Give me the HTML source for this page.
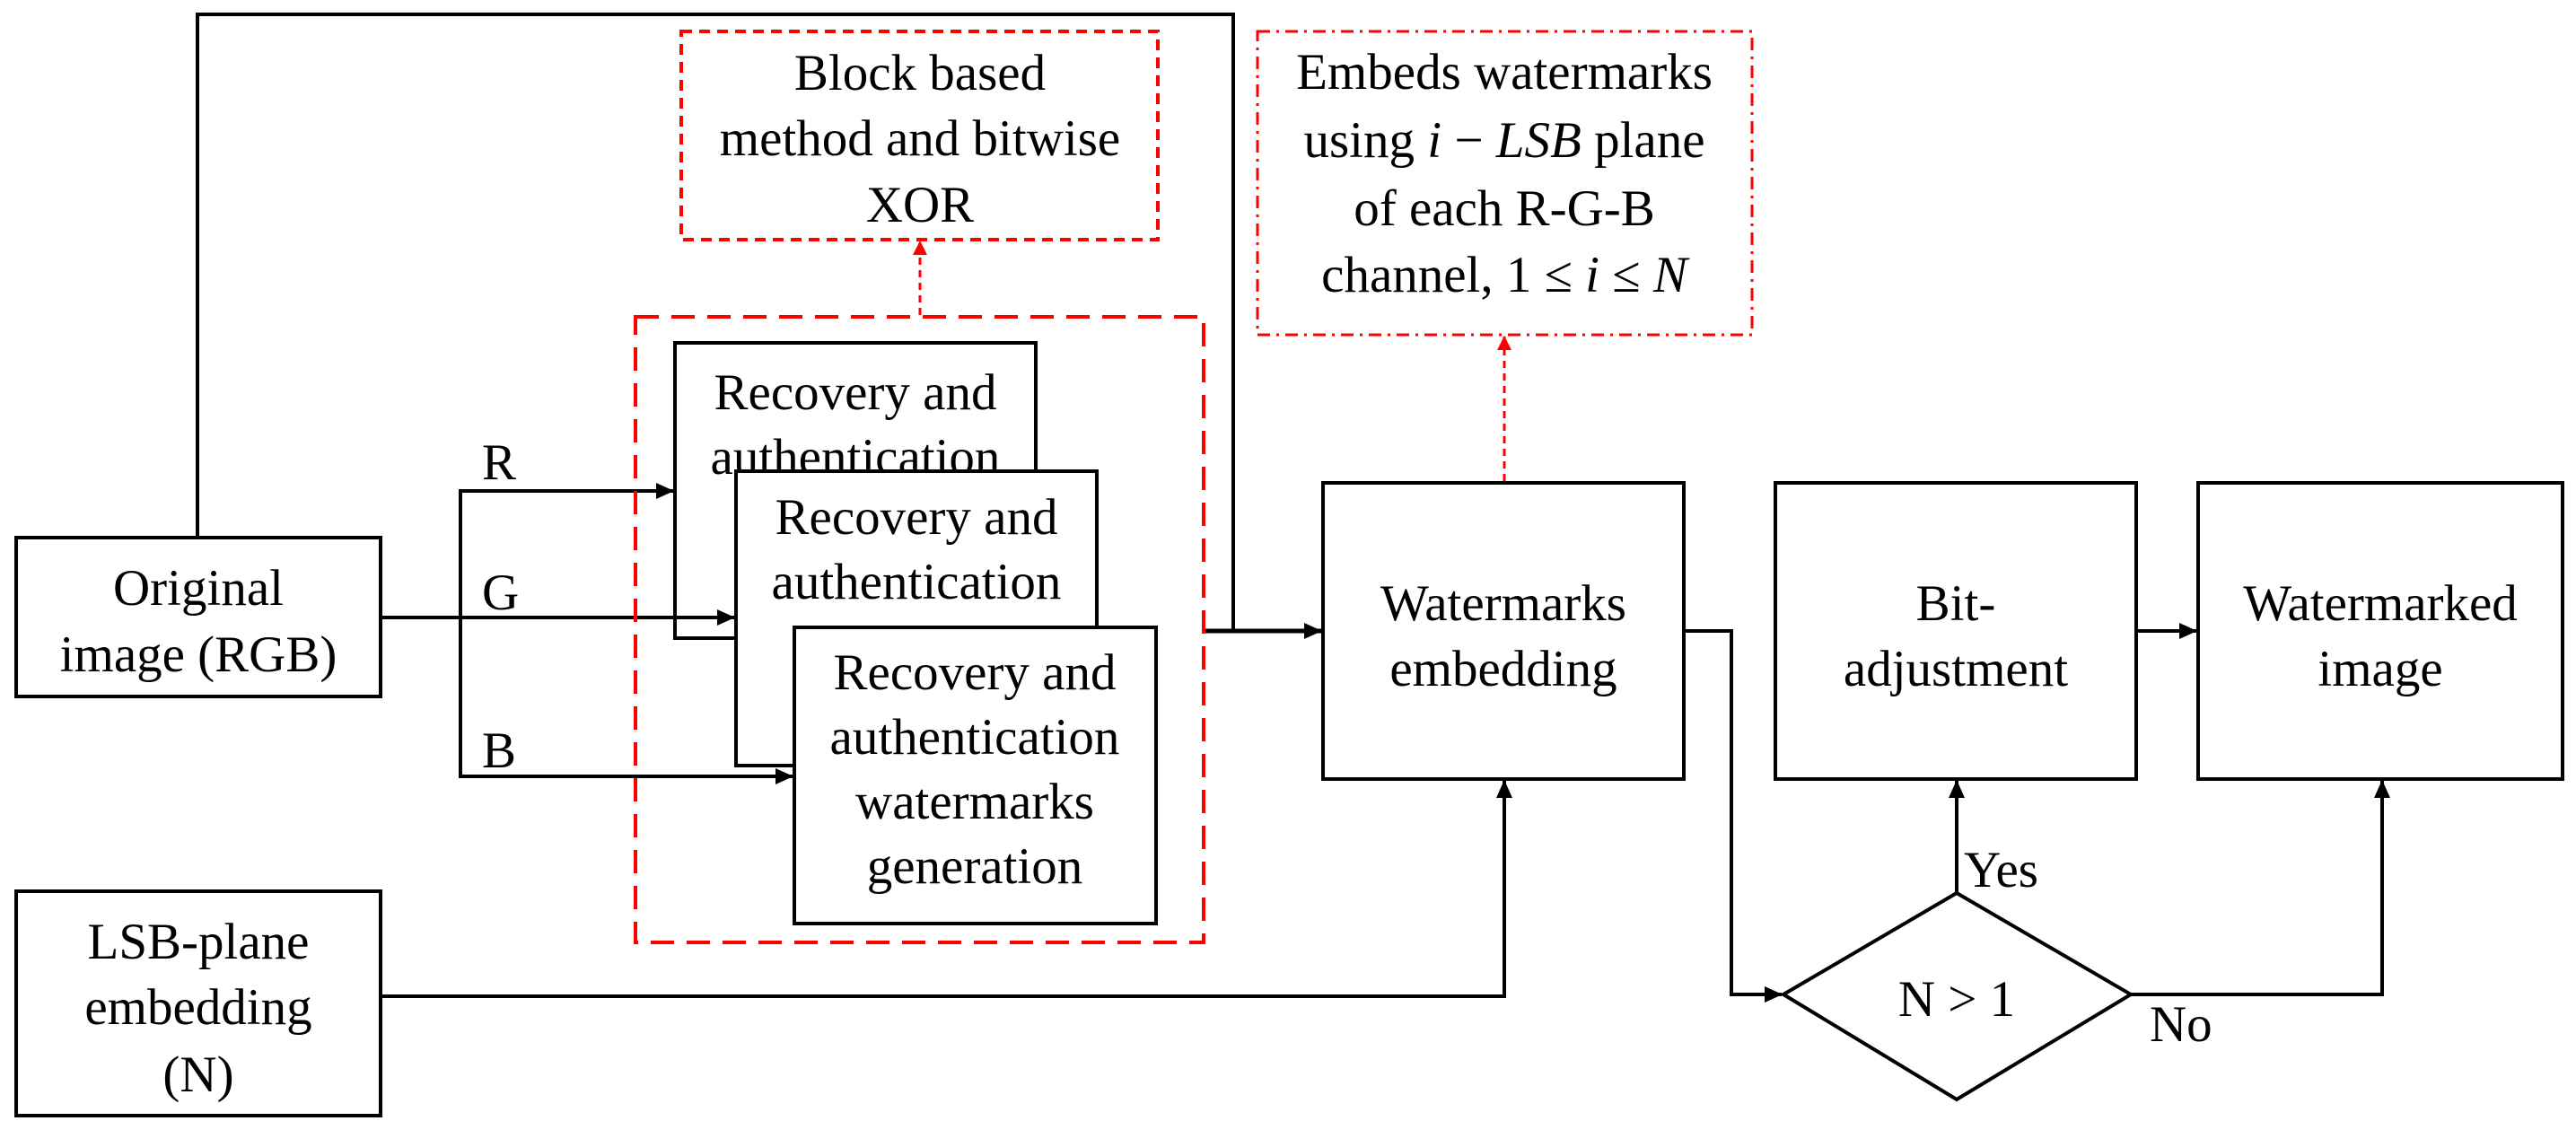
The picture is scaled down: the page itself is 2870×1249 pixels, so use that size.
<!DOCTYPE html>
<html><head><meta charset="utf-8"><style>
html,body{margin:0;padding:0;background:#fff;}
svg{display:block;}
text{font-family:"Liberation Serif",serif;font-size:57px;fill:#000;}
</style></head><body>
<svg width="2870" height="1249" viewBox="0 0 2870 1249" xmlns="http://www.w3.org/2000/svg">
<defs>
<marker id="a" markerWidth="20" markerHeight="18" refX="19" refY="9" orient="auto" markerUnits="userSpaceOnUse" viewBox="0 0 20 18"><path d="M0,0 L20,9 L0,18 z" fill="#000"/></marker>
<marker id="ar" markerWidth="16" markerHeight="16" refX="15" refY="8" orient="auto" markerUnits="userSpaceOnUse" viewBox="0 0 16 16"><path d="M0,0 L16,8 L0,16 z" fill="#f00"/></marker>
</defs>
<g fill="none" stroke="#000" stroke-width="4">
<polyline points="220,599 220,16 1374,16 1374,703"/>
<line x1="1341" y1="703" x2="1472" y2="703" marker-end="url(#a)" stroke-width="5"/>
<polyline points="750,547 513,547 513,865 883,865" />
<line x1="424" y1="688" x2="760" y2="688"/>
<polyline points="424,1110 1676,1110 1676,870" marker-end="url(#a)"/>
<polyline points="1876,703 1929,703 1929,1108 1985,1108" marker-end="url(#a)"/>
<line x1="2180" y1="995" x2="2180" y2="870" marker-end="url(#a)"/>
<polyline points="2374,1108 2654,1108 2654,870" marker-end="url(#a)"/>
<line x1="2380" y1="703" x2="2447" y2="703" marker-end="url(#a)"/>
<line x1="700" y1="547" x2="750" y2="547" marker-end="url(#a)"/>
</g>
<g fill="none" stroke="#f00" stroke-width="4">
<rect x="708" y="353" width="633" height="697" stroke-dasharray="26 14"/>
<rect x="759" y="35" width="531" height="232" stroke-dasharray="12 8"/>
<rect x="1401" y="35" width="551" height="338" stroke-dasharray="14 7 3 7" stroke-width="3"/>
<line x1="1025" y1="351" x2="1025" y2="269" stroke-dasharray="8 6" stroke-width="3" marker-end="url(#ar)"/>
<line x1="1676" y1="536" x2="1676" y2="375" stroke-dasharray="8 6" stroke-width="3" marker-end="url(#ar)"/>
</g>
<g fill="#fff" stroke="#000" stroke-width="4">
<rect x="18" y="599" width="406" height="177"/>
<rect x="18" y="993" width="406" height="250"/>
<rect x="1474" y="538" width="402" height="330"/>
<rect x="1978" y="538" width="402" height="330"/>
<rect x="2449" y="538" width="406" height="330"/>
<polygon points="1987,1108 2180,995 2374,1108 2180,1225"/>
</g>
<g text-anchor="middle">
<text x="221" y="674">Original</text>
<text x="221" y="748">image (RGB)</text>
<text x="221" y="1068">LSB-plane</text>
<text x="221" y="1141">embedding</text>
<text x="221" y="1216">(N)</text>
<text x="1675" y="691">Watermarks</text>
<text x="1675" y="764">embedding</text>
<text x="2179" y="691">Bit-</text>
<text x="2179" y="764">adjustment</text>
<text x="2652" y="691">Watermarked</text>
<text x="2652" y="764">image</text>
<text x="2180" y="1132">N &gt; 1</text>
<text x="1025" y="100">Block based</text>
<text x="1025" y="173">method and bitwise</text>
<text x="1025" y="247">XOR</text>
<text x="1676" y="99">Embeds watermarks</text>
<text x="1676" y="175">using <tspan font-style="italic">i</tspan> − <tspan font-style="italic">LSB</tspan> plane</text>
<text x="1676" y="251">of each R-G-B</text>
<text x="1676" y="325">channel, 1 ≤ <tspan font-style="italic">i</tspan> ≤ <tspan font-style="italic">N</tspan></text>
</g>
<text x="537" y="534">R</text>
<text x="537" y="679">G</text>
<text x="537" y="855">B</text>
<text x="2188" y="988">Yes</text>
<text x="2395" y="1160">No</text>
<rect x="752" y="382" width="402" height="329" fill="#fff" stroke="#000" stroke-width="4"/>
<g text-anchor="middle">
<text x="953" y="456">Recovery and</text>
<text x="953" y="528">authentication</text>
<text x="953" y="600">watermarks</text>
</g>
<line x1="740" y1="688" x2="818" y2="688" stroke="#000" stroke-width="4" marker-end="url(#a)"/>
<rect x="820" y="525" width="402" height="328" fill="#fff" stroke="#000" stroke-width="4"/>
<g text-anchor="middle">
<text x="1021" y="595">Recovery and</text>
<text x="1021" y="667">authentication</text>
<text x="1021" y="739">watermarks</text>
</g>
<rect x="885" y="699" width="403" height="330" fill="#fff" stroke="#000" stroke-width="4"/>
<g text-anchor="middle">
<text x="1086" y="768">Recovery and</text>
<text x="1086" y="840">authentication</text>
<text x="1086" y="912">watermarks</text>
<text x="1086" y="984">generation</text>
</g>
<line x1="840" y1="865" x2="883" y2="865" stroke="#000" stroke-width="4" marker-end="url(#a)"/>
</svg>
</body></html>
